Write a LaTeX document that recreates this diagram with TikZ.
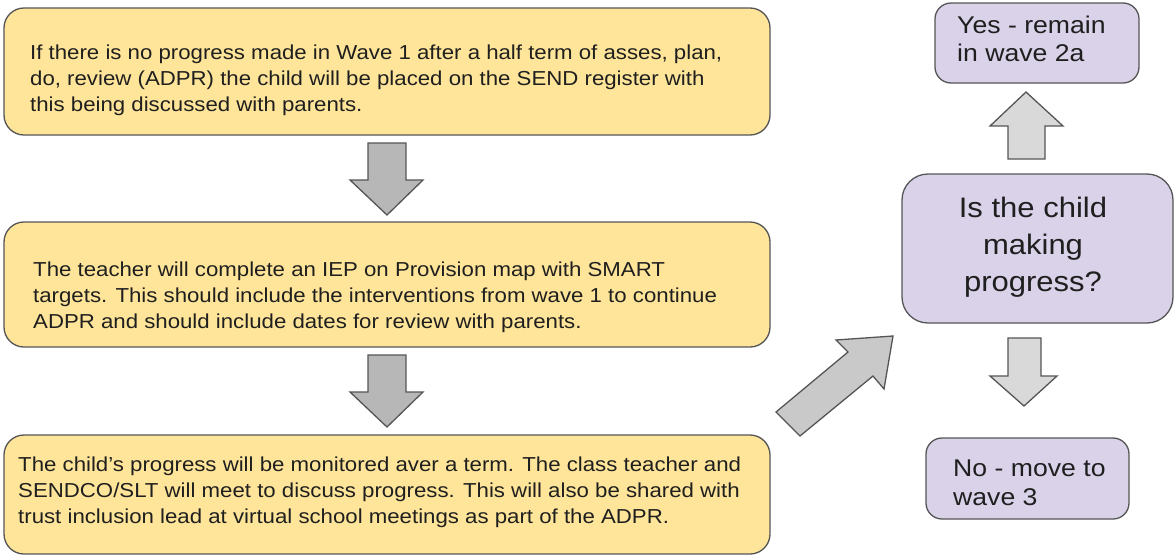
\documentclass[tikz,border=0pt]{standalone}
\usepackage{fontspec}
\setmainfont[FakeStretch=1.1]{Liberation Sans}
\definecolor{yfill}{HTML}{FFE599}
\definecolor{pfill}{HTML}{D9D2E9}
\definecolor{bordergray}{HTML}{555555}
\definecolor{agrayA}{HTML}{B7B7B7}
\definecolor{agrayB}{HTML}{C9C9C9}
\definecolor{agrayC}{HTML}{D9D9D9}
\definecolor{txtcol}{HTML}{1F1F1F}
\begin{document}
\begin{tikzpicture}[x=1pt,y=-1pt,
  ybox/.style={draw=bordergray, fill=yfill, line width=1.3pt, rounded corners=20pt, inner sep=0pt},
  pbox/.style={draw=bordergray, fill=pfill, line width=1.3pt, rounded corners=16pt, inner sep=0pt},
  txt/.style={inner sep=0pt, align=left, font=\fontsize{20.2}{26}\selectfont, text=txtcol},
  stxt/.style={inner sep=0pt, align=left, font=\fontsize{24.2}{28.5}\selectfont, text=txtcol},
  qtxt/.style={inner sep=0pt, align=center, font=\fontsize{28.2}{37}\selectfont, text=txtcol},
  blockarrow/.style={draw=bordergray, line width=1.3pt, line join=miter},
]
\useasboundingbox (0,0) rectangle (1174,555);

% left boxes
\node[ybox, minimum width=766pt, minimum height=127pt] (b1) at (387,71.5) {};
\node[txt, anchor=west] (t1) at (30,80) {If there is no progress made in Wave 1 after a half term of asses, plan,\\do, review (ADPR) the child will be placed on the SEND register with\\this being discussed with parents.};

\node[ybox, minimum width=766pt, minimum height=125pt] (b2) at (387,284.5) {};
\node[txt, anchor=west] (t2) at (33,297) {The teacher will complete an IEP on Provision map with SMART\\targets. This should include the interventions from wave 1 to continue\\ADPR and should include dates for review with parents.};

\node[ybox, minimum width=766pt, minimum height=119pt] (b3) at (387,494.5) {};
\node[txt, anchor=west] (t3) at (18,492) {The child's progress will be monitored aver a term. The class teacher and\\SENDCO/SLT will meet to discuss progress. This will also be shared with\\trust inclusion lead at virtual school meetings as part of the ADPR.};

% right boxes
\node[pbox, minimum width=204pt, minimum height=80pt] (yes) at (1037,43) {};
\node[stxt, anchor=west] (tyes) at (957,39) {Yes - remain\\in wave 2a};

\node[pbox, rounded corners=26pt, minimum width=271pt, minimum height=149pt] (q) at (1037.5,248.5) {};
\node[qtxt] (tq) at (1033,247) {Is the child\\making\\progress?};

\node[pbox, minimum width=203pt, minimum height=81pt] (no) at (1027.5,478.5) {};
\node[stxt, anchor=west] (tno) at (953,483) {No - move to\\wave 3};

% block arrows
\draw[blockarrow, fill=agrayA] (368,143) -- (406,143) -- (406,180) -- (423,180) -- (387,215) -- (350,180) -- (368,180) -- cycle;
\draw[blockarrow, fill=agrayA] (368,355) -- (406,355) -- (406,392) -- (423,392) -- (387,427) -- (350,392) -- (368,392) -- cycle;
\draw[blockarrow, fill=agrayB] (776,412) -- (848,352) -- (836,340) -- (893,336) -- (884,389) -- (873,376) -- (800,436) -- cycle;
\draw[blockarrow, fill=agrayC] (1026,92) -- (1063,126) -- (1045,126) -- (1045,159) -- (1008,159) -- (1008,126) -- (990,126) -- cycle;
\draw[blockarrow, fill=agrayC] (1008,338) -- (1041,338) -- (1041,376) -- (1057,376) -- (1024,406) -- (990,376) -- (1008,376) -- cycle;
\end{tikzpicture}
\end{document}
